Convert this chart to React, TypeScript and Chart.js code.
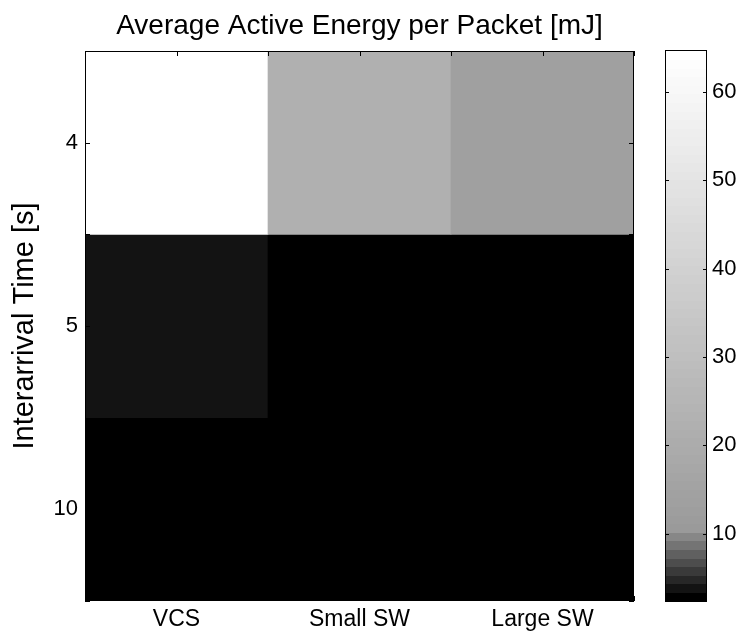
import React, { useEffect, useRef } from 'react';
import { Chart, registerables } from 'chart.js';

Chart.register(...registerables);

// Energy per packet [mJ] for each scheme (columns) and interarrival time (rows)
const schemes = ['VCS', 'Small SW', 'Large SW'];
const interarrivalLabels = ['4', '5', '10'];
const energyAt4s = [64.6, 22.3, 13.6];
const energyAt5s = [3.8, 2.5, 2.4];
const energyAt10s = [2.5, 2.4, 2.4];
const colorbarTickValues = [10, 20, 30, 40, 50, 60];

const energyRows = [energyAt4s, energyAt5s, energyAt10s];
const allValues = energyRows.flat();
const cMin = Math.min(...allValues);
const cMax = Math.max(...allValues);

// 64-level gray colormap: steep ramp over the lowest levels, gentle ramp up to white
const LEVELS = 64;
const levelGray = (i: number) =>
  i <= 8 ? Math.round((i * 154) / 8) : Math.round(154 + ((i - 8) * 101) / (LEVELS - 1 - 8));
const grayCss = (i: number) => {
  const g = levelGray(i);
  return `rgb(${g},${g},${g})`;
};
const levelOf = (v: number) =>
  Math.max(0, Math.min(LEVELS - 1, Math.floor(((v - cMin) / (cMax - cMin)) * LEVELS)));

const FONT = "'Liberation Sans', Arial, Helvetica, sans-serif";
Chart.defaults.font.family = FONT;
Chart.defaults.color = '#000';

const overlayPlugin = {
  id: 'heatmapOverlay',
  afterDraw(chart: any) {
    const { ctx, chartArea: a, scales } = chart;
    const x = scales.x;
    const y = scales.y;
    const cb = scales.cb;
    ctx.save();

    // colorbar strip, one band per colormap level
    const barL = a.right + 31;
    const barR = a.right + 73;
    const step = (cMax - cMin) / LEVELS;
    for (let i = 0; i < LEVELS; i++) {
      const yTop = cb.getPixelForValue(cMin + (i + 1) * step);
      const yBot = cb.getPixelForValue(cMin + i * step);
      ctx.fillStyle = grayCss(i);
      ctx.fillRect(barL, Math.floor(yTop), barR - barL, Math.ceil(yBot) - Math.floor(yTop));
    }
    ctx.strokeStyle = '#000';
    ctx.lineWidth = 1;
    ctx.strokeRect(barL + 0.5, a.top - 0.5, barR - barL - 1, a.bottom - a.top + 1);
    ctx.beginPath();
    for (const v of colorbarTickValues) {
      const py = Math.round(cb.getPixelForValue(v)) + 0.5;
      ctx.moveTo(barL, py);
      ctx.lineTo(barL + 4, py);
      ctx.moveTo(barR - 4, py);
      ctx.lineTo(barR, py);
    }
    ctx.stroke();

    // axes box with inward ticks at cell centres and edges
    ctx.strokeRect(a.left + 0.5, a.top + 0.5, a.right - a.left - 1, a.bottom - a.top - 1);
    ctx.beginPath();
    const tl = 5;
    for (let k = 0; k <= schemes.length * 2; k++) {
      const v = -0.5 + k * 0.5;
      const px = Math.round(x.getPixelForValue(v)) + 0.5;
      ctx.moveTo(px, a.top);
      ctx.lineTo(px, a.top + tl);
      ctx.moveTo(px, a.bottom);
      ctx.lineTo(px, a.bottom - tl);
    }
    for (let k = 0; k <= interarrivalLabels.length * 2; k++) {
      const v = 0.5 + k * 0.5;
      const py = Math.round(y.getPixelForValue(v)) + 0.5;
      ctx.moveTo(a.left, py);
      ctx.lineTo(a.left + tl, py);
      ctx.moveTo(a.right, py);
      ctx.lineTo(a.right - tl, py);
    }
    ctx.stroke();
    ctx.restore();
  },
};

export default function App() {
  const canvasRef = useRef<HTMLCanvasElement | null>(null);

  useEffect(() => {
    if (!canvasRef.current) return;

    const datasets = energyRows.map((vals, r) => ({
      label: interarrivalLabels[r],
      data: vals.map(() => [r + 0.5, r + 1.5]),
      backgroundColor: vals.map((v) => grayCss(levelOf(v))),
      borderWidth: 0,
      barPercentage: 1,
      categoryPercentage: 1,
      grouped: false,
      yAxisID: 'y',
    }));

    const chart = new Chart(canvasRef.current, {
      type: 'bar',
      data: { labels: schemes, datasets: datasets as any },
      options: {
        responsive: false,
        animation: false,
        devicePixelRatio: 1,
        layout: { padding: 0 },
        plugins: {
          legend: { display: false },
          tooltip: { enabled: false },
          title: {
            display: true,
            text: 'Average Active Energy per Packet [mJ]',
            fullSize: false,
            color: '#000',
            font: { size: 28, weight: 'normal', family: FONT },
            padding: { top: 9, bottom: 8.4 },
          },
        },
        scales: {
          x: {
            type: 'category',
            offset: true,
            grid: { display: false, drawTicks: false },
            border: { display: false },
            ticks: { font: { size: 23 }, color: '#000', padding: 5, maxRotation: 0, autoSkip: false },
            afterFit: (s: any) => {
              s.height = 32;
            },
          },
          y: {
            type: 'linear',
            min: 0.5,
            max: 3.5,
            reverse: true,
            afterBuildTicks: (s: any) => {
              s.ticks = interarrivalLabels.map((_, i) => ({ value: i + 1 }));
            },
            grid: { display: false, drawTicks: false },
            border: { display: false },
            ticks: {
              font: { size: 22 },
              color: '#000',
              padding: 7,
              callback: (v: any) => interarrivalLabels[Number(v) - 1] ?? '',
            },
            title: {
              display: true,
              text: 'Interarrival Time [s]',
              color: '#000',
              font: { size: 29, family: FONT },
              padding: { top: 8, bottom: 0 },
            },
            afterFit: (s: any) => {
              s.width = 85;
              s.paddingTop = 0;
              s.paddingBottom = 0;
            },
          },
          cb: {
            type: 'linear',
            position: 'right',
            min: cMin,
            max: cMax,
            afterBuildTicks: (s: any) => {
              s.ticks = colorbarTickValues.map((v) => ({ value: v }));
            },
            grid: { display: false, drawTicks: false, drawOnChartArea: false },
            border: { display: false },
            ticks: { font: { size: 22 }, color: '#000', padding: 78 },
            afterFit: (s: any) => {
              s.width = 109;
              s.paddingTop = 0;
              s.paddingBottom = 0;
            },
          },
        },
      } as any,
      plugins: [overlayPlugin],
    });

    return () => chart.destroy();
  }, []);

  return (
    <div style={{ position: 'fixed', left: 0, top: 0, width: 743, height: 633, background: '#fff' }}>
      <canvas ref={canvasRef} width={743} height={633} />
    </div>
  );
}
